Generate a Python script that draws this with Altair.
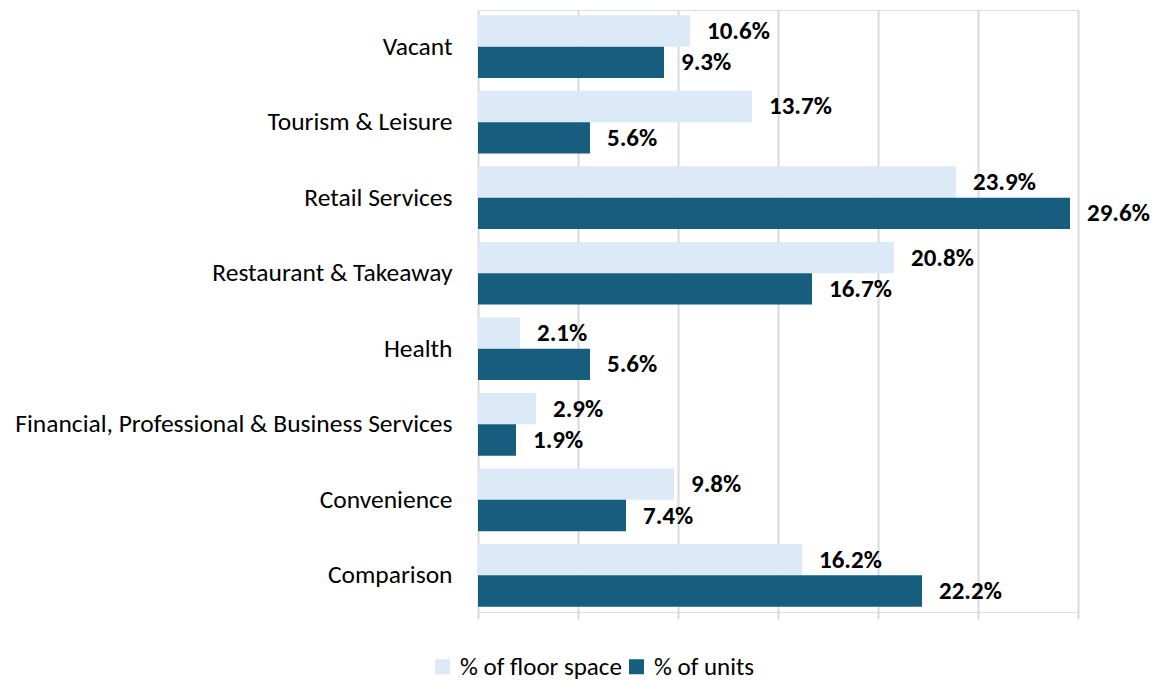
import altair as alt
import pandas as pd

categories = ["Vacant", "Tourism & Leisure", "Retail Services", "Restaurant & Takeaway",
              "Health", "Financial, Professional & Business Services", "Convenience", "Comparison"]
floor_space = [10.6, 13.7, 23.9, 20.8, 2.1, 2.9, 9.8, 16.2]
units = [9.3, 5.6, 29.6, 16.7, 5.6, 1.9, 7.4, 22.2]
series = ["% of floor space", "% of units"]
colors = ["#dce9f6", "#175e7e"]

rows = []
for c, f, u in zip(categories, floor_space, units):
    rows.append({"cat": c, "series": series[0], "value": f, "label": f"{f:.1f}%"})
    rows.append({"cat": c, "series": series[1], "value": u, "label": f"{u:.1f}%"})
df = pd.DataFrame(rows)

FONT = "Carlito, Liberation Sans, sans-serif"
FS = 25

y = alt.Y("cat:N", sort=categories, title=None,
          scale=alt.Scale(paddingInner=0.17, paddingOuter=0.07),
          axis=alt.Axis(domain=False, ticks=False, labelFontSize=25.5, labelPadding=26,
                        labelColor="#000000", labelFont=FONT, labelLimit=700))
yoff = alt.YOffset("series:N", sort=series, scale=alt.Scale(paddingInner=0, paddingOuter=0))
x = alt.X("value:Q", title=None,
          scale=alt.Scale(domain=[0, 30], nice=False),
          axis=alt.Axis(values=[0, 5, 10, 15, 20, 25, 30], labels=False, domain=False,
                        tickSize=7, tickColor="#d9d9d9", tickWidth=2,
                        gridColor="#d9d9d9", gridWidth=2))

bars = alt.Chart(df).mark_bar().encode(
    y=y, yOffset=yoff, x=x,
    color=alt.Color("series:N", sort=series,
                    scale=alt.Scale(domain=series, range=colors),
                    legend=alt.Legend(title=None, orient="none", direction="horizontal",
                                      legendX=-48, legendY=644, symbolType="square",
                                      symbolSize=225, symbolStrokeWidth=0,
                                      labelFontSize=FS, labelFont=FONT, labelColor="#000000",
                                      labelLimit=400,
                                      columnPadding=2, symbolOffset=0, labelOffset=5)),
)

text = alt.Chart(df).mark_text(align="left", baseline="middle", dx=17, fontSize=FS,
                               fontWeight="bold", font=FONT, color="#000000").encode(
    y=alt.Y("cat:N", sort=categories), yOffset=alt.YOffset("series:N", sort=series),
    x=alt.X("value:Q"), text="label:N")

chart = alt.layer(bars, text).properties(
    width=600, height=602, padding={"left": 6, "top": 2, "right": 0, "bottom": 2}
).configure_view(stroke=None).configure(background="#ffffff")

chart.save("out.html", embed_options={"renderer": "svg", "actions": False})
